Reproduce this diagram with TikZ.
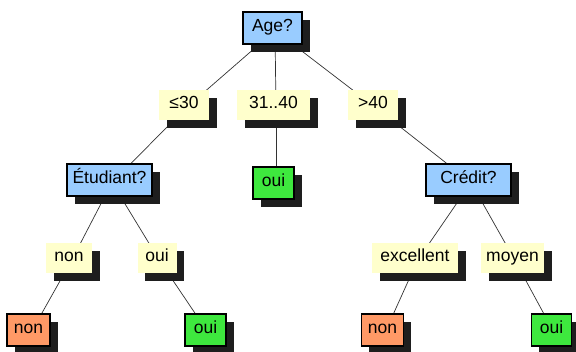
\documentclass[tikz,border=0pt]{standalone}
\usepackage{fontspec}
\setmainfont{Liberation Sans}
\usetikzlibrary{shadows,backgrounds,calc}
\definecolor{qblue}{HTML}{99CCFF}
\definecolor{lblyellow}{HTML}{FFFFCC}
\definecolor{leafno}{HTML}{FF9966}
\definecolor{leafyes}{HTML}{3EE83E}
\definecolor{shade}{HTML}{1E1E1E}
\tikzset{
  base/.style={inner sep=0pt, text height=12.5pt, text depth=5pt,
    font=\fontsize{17.5}{20}\selectfont,
    drop shadow={shadow xshift=7.5pt, shadow yshift=-7.5pt, fill=shade, opacity=1}},
  question/.style={base, draw=black, line width=1.1pt, fill=qblue, minimum height=32pt},
  branch/.style={base, fill=lblyellow, minimum height=30pt},
  leafnon/.style={base, draw=black, line width=1.1pt, fill=leafno, minimum height=32pt},
  leafoui/.style={base, draw=black, line width=1.1pt, fill=leafyes, minimum height=32pt},
  link/.style={draw=black!80, line width=0.7pt},
}
\begin{document}
\begin{tikzpicture}[x=1pt,y=-1pt]
\useasboundingbox (0,0) rectangle (576,351);
% decision nodes
\node[question, minimum width=59pt] (age) at (272.5,28) {Age?};
\node[question, minimum width=85pt] (etud) at (109.5,180) {Étudiant?};
\node[question, minimum width=85pt] (credit) at (468.5,180) {Crédit?};
% branch labels
\node[branch, minimum width=50pt] (le30) at (184,105) {≤30};
\node[branch, minimum width=73pt] (mid) at (273.5,105) {31..40};
\node[branch, minimum width=50pt] (gt40) at (373,105) {>40};
\node[branch, minimum width=46pt] (bnon) at (69,258) {non};
\node[branch, minimum width=39pt] (boui) at (157,258) {oui};
\node[branch, minimum width=86pt] (bexc) at (415,258) {excellent};
\node[branch, minimum width=63pt] (bmoy) at (512.5,258) {moyen};
% leaves
\node[leafoui, minimum width=41pt] (ouimid) at (273.5,183) {oui};
\node[leafnon, minimum width=43pt] (non1) at (28.5,330) {non};
\node[leafoui, minimum width=41pt] (oui1) at (205.5,330) {oui};
\node[leafnon, minimum width=42pt] (non2) at (382.5,330) {non};
\node[leafoui, minimum width=40pt] (oui2) at (551.5,330) {oui};
% connectors, behind the boxes and their shadows
\begin{pgfonlayer}{background}
\foreach \a/\b in {age/le30, age/mid, age/gt40,
                   le30/etud, mid/ouimid, gt40/credit,
                   etud/bnon, etud/boui, credit/bexc, credit/bmoy,
                   bnon/non1, boui/oui1, bexc/non2, bmoy/oui2}
  \draw[link] ($(\a.center)+(2.5,2.5)$) -- ($(\b.center)+(2.5,2.5)$);
\end{pgfonlayer}
\end{tikzpicture}
\end{document}
